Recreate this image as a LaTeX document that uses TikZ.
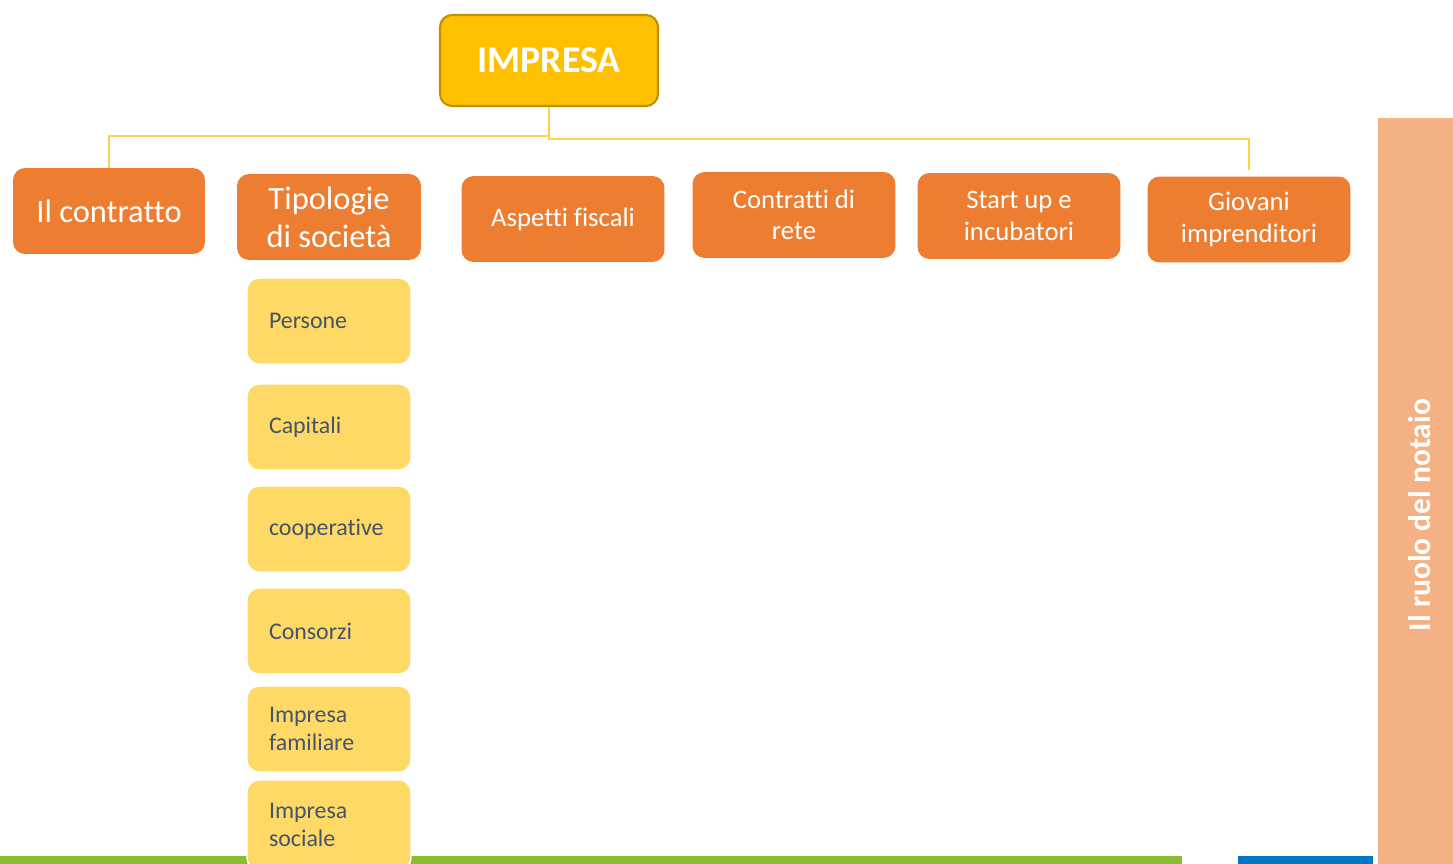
\documentclass[tikz,border=0pt]{standalone}
\usepackage{fontspec}
\setmainfont{Carlito}[Ligatures=NoCommon]
\definecolor{goldbox}{HTML}{FFC000}
\definecolor{goldedge}{HTML}{BF9000}
\definecolor{orangebox}{HTML}{ED7D31}
\definecolor{yellowbox}{HTML}{FFD966}
\definecolor{leaftext}{HTML}{44546A}
\definecolor{linkyellow}{HTML}{FFD24C}
\definecolor{peachbar}{HTML}{F4B183}
\definecolor{greenbar}{HTML}{86BF2B}
\definecolor{bluebar}{HTML}{0077C8}

\begin{document}
\begin{tikzpicture}[x=0.02cm, y=-0.02cm,
    every node/.style={rounded corners=0.24cm, inner sep=2pt},
    top/.style={fill=goldbox, draw=goldedge, line width=1.2pt, text=white, font=\fontsize{21.5}{25}\selectfont\bfseries, minimum width=4.36cm, minimum height=1.82cm},
    branch/.style={fill=orangebox, text=white, align=center, minimum width=4.06cm, minimum height=1.72cm},
    big/.style={font=\fontsize{18.5}{21.5}\selectfont},
    small/.style={font=\fontsize{15.2}{18}\selectfont},
    leaf/.style={fill=yellowbox, draw=white, line width=0.8pt, text=leaftext, font=\fontsize{13.6}{16}\selectfont, align=left, text width=2.4cm, inner xsep=0.44cm, minimum height=1.72cm},
    link/.style={draw=linkyellow, line width=0.7pt}
]
\useasboundingbox (0,0) rectangle (1453,864);

% bars
\fill[peachbar] (1378,118) rectangle (1453,864);
\fill[greenbar] (0,856) rectangle (1182,864);
\fill[bluebar] (1238,856) rectangle (1373,864);
\node[rotate=90, text=white, font=\fontsize{17.9}{20}\selectfont\bfseries] (notaio) at (1420,515) {Il ruolo del notaio};

% top
\node[top] (impresa) at (549,60.5) {IMPRESA};

% branches
\node[branch, big, minimum width=3.84cm] (contratto) at (109,211) {Il contratto};
\node[branch, big, minimum width=3.68cm] (tipologie) at (329,217) {Tipologie\\di società};
\node[branch, small] (fiscali) at (563,219) {Aspetti fiscali};
\node[branch, small] (rete) at (794,215) {Contratti di\\rete};
\node[branch, small] (startup) at (1019,216) {Start up e\\incubatori};
\node[branch, small] (giovani) at (1249,219.5) {Giovani\\imprenditori};

\draw[link] (impresa.south) -- (impresa.south |- 0,136) -| (contratto.north);
\draw[link] (impresa.south |- 0,136) -- (impresa.south |- 0,139) -| ([yshift=0.12cm]giovani.north);

% leaves
\node[leaf] (persone) at (329,321) {Persone};
\node[leaf] (capitali) at (329,427) {Capitali};
\node[leaf] (coop) at (329,529) {cooperative};
\node[leaf] (consorzi) at (329,631) {Consorzi};
\node[leaf] (familiare) at (329,729) {Impresa\\familiare};
\node[leaf, minimum height=1.8cm] (sociale) at (329,825) {Impresa\\sociale};

\end{tikzpicture}
\end{document}
